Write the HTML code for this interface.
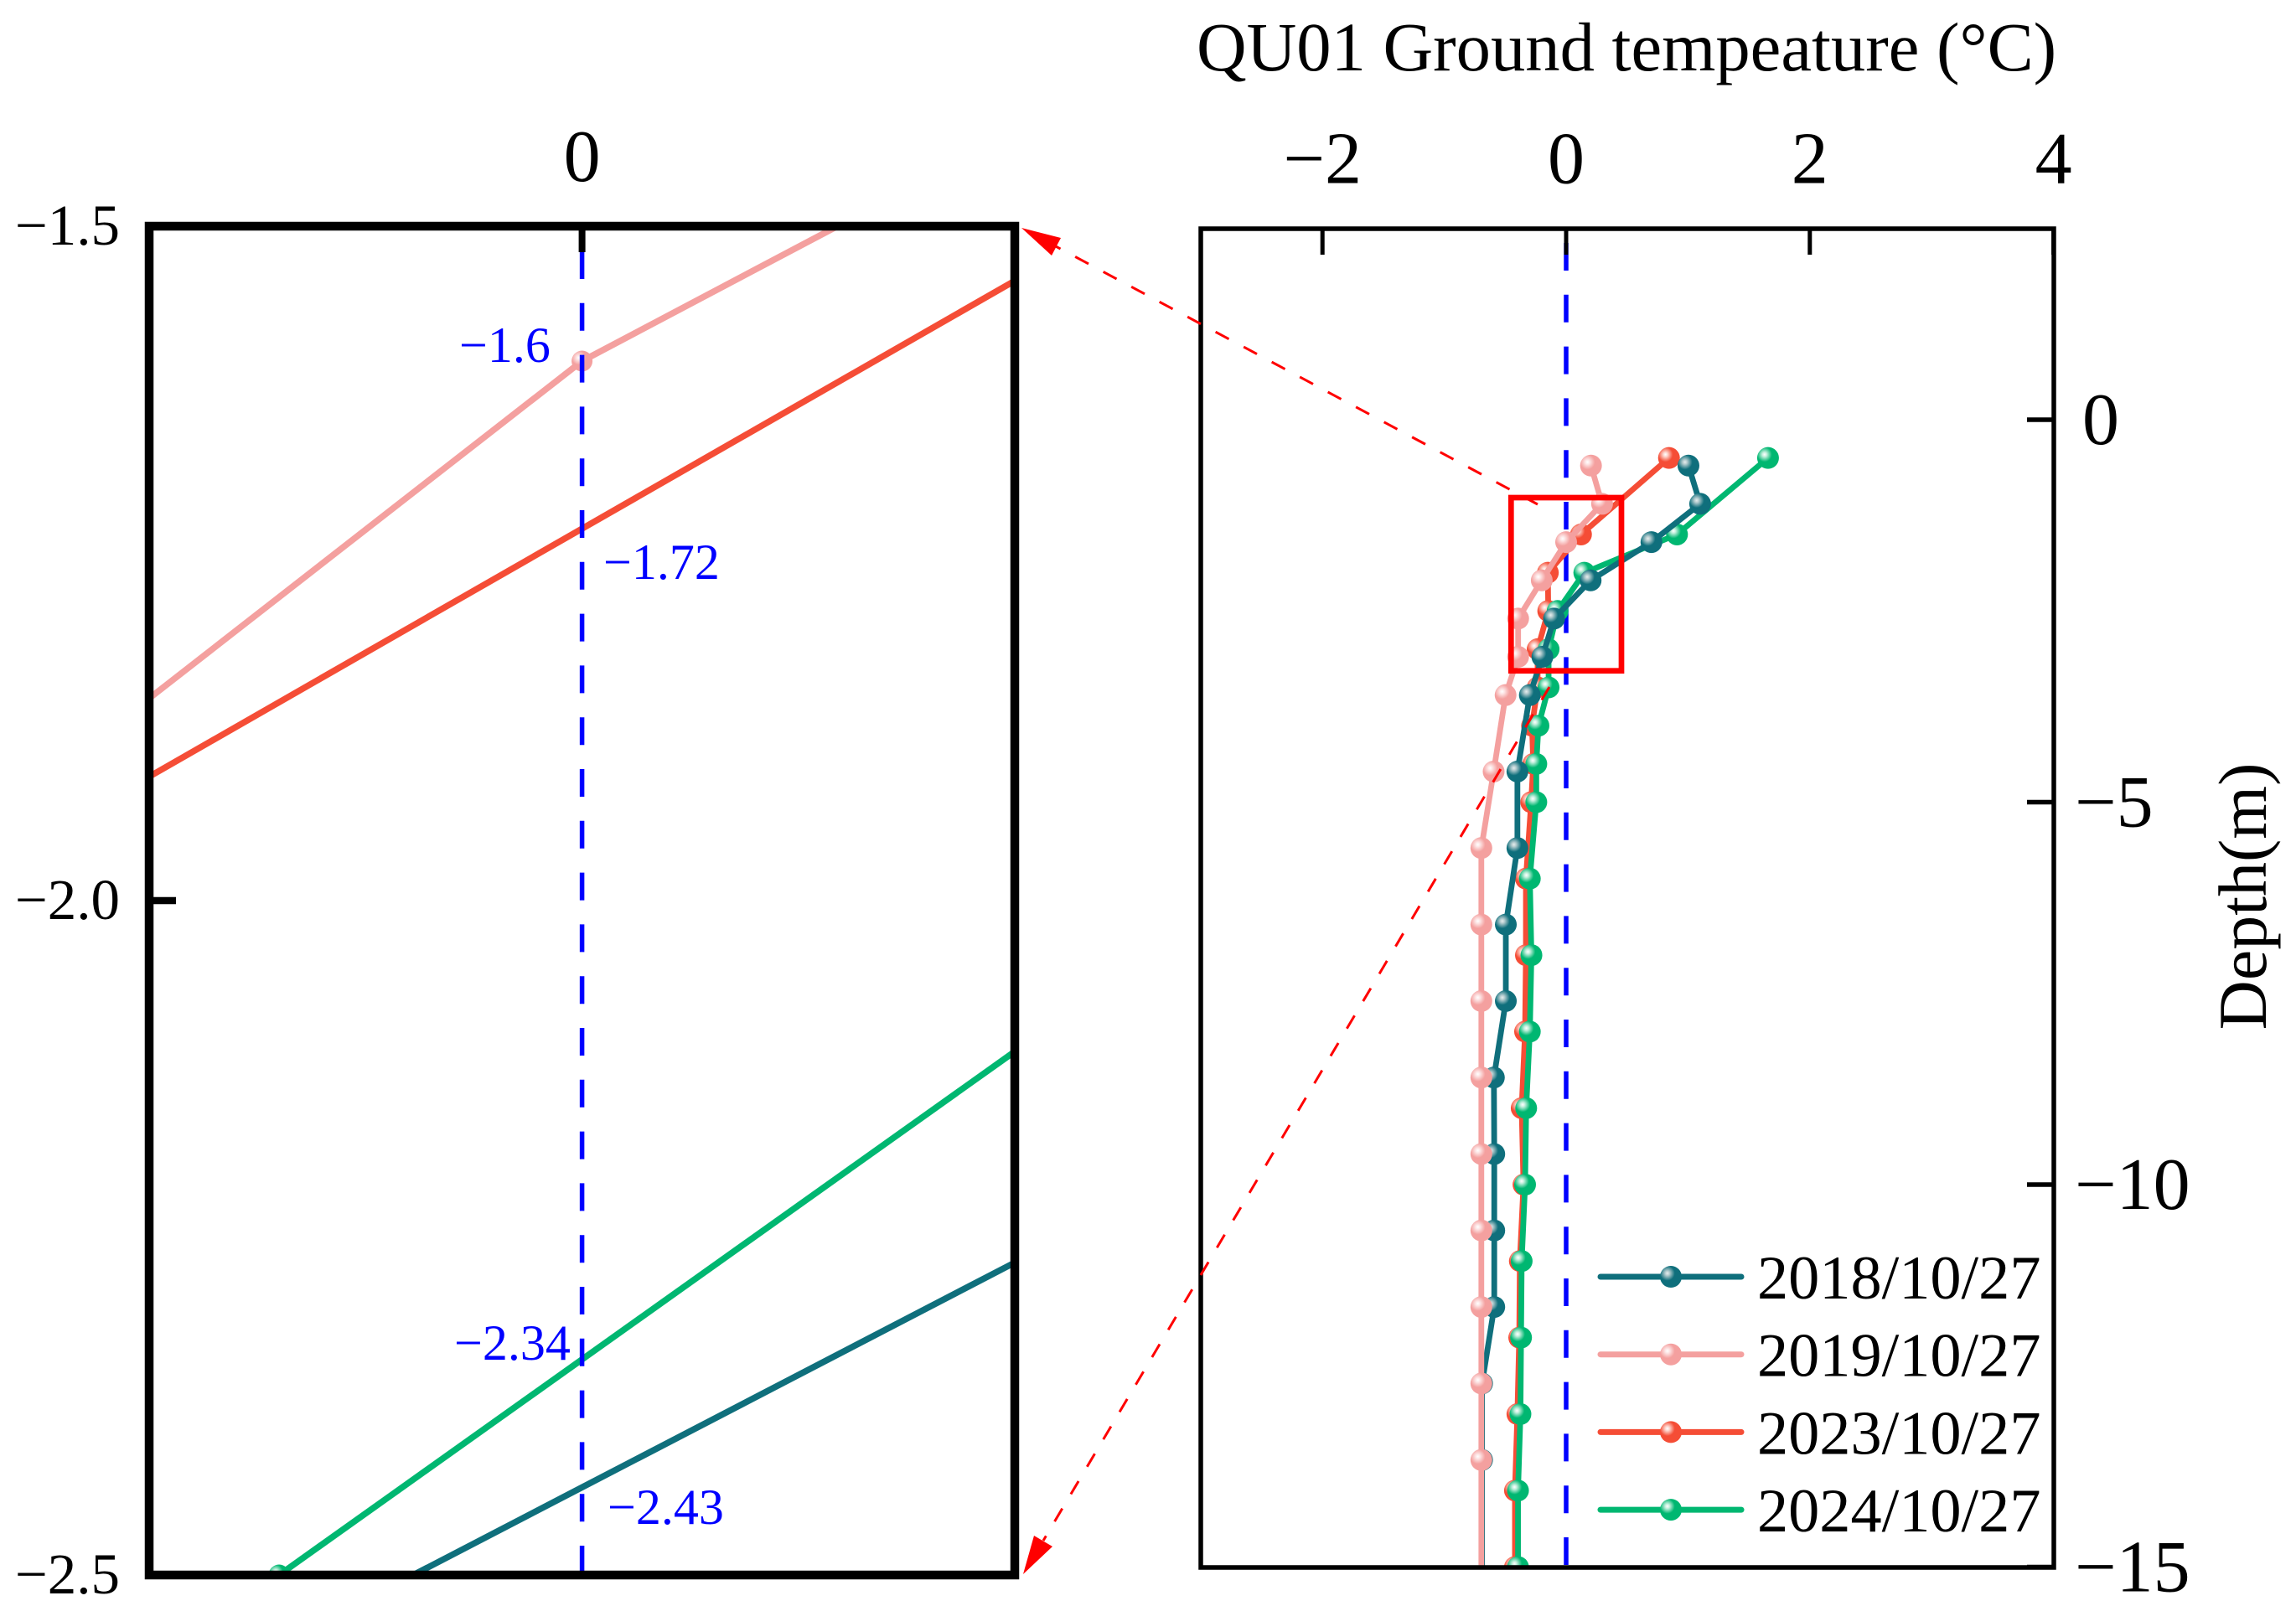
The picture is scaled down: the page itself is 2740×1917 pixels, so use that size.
<!DOCTYPE html>
<html>
<head>
<meta charset="utf-8">
<title>QU01 Ground temperature profile</title>
<style>
html,body{margin:0;padding:0;background:#fff;overflow:hidden;}
svg{display:block;}
text{font-family:"Liberation Serif","Noto Serif CJK SC",serif;fill:#000;}
</style>
</head>
<body>
<svg id="figure" xmlns="http://www.w3.org/2000/svg" width="2740" height="1917" viewBox="0 0 2740 1917">
  <defs>
    <clipPath id="clip-main"><rect x="1433" y="273" width="1018" height="1598"/></clipPath>
    <clipPath id="clip-inset"><rect x="178" y="270" width="1033" height="1610"/></clipPath>
    <radialGradient id="grad-teal" cx="0.34" cy="0.34" r="0.34"><stop offset="0" stop-color="#e6eeee"/><stop offset="0.3" stop-color="#b5cccf"/><stop offset="1" stop-color="#0f6f7c"/></radialGradient>
    <radialGradient id="grad-salmon" cx="0.34" cy="0.34" r="0.34"><stop offset="0" stop-color="#ffffff"/><stop offset="0.3" stop-color="#fde6e6"/><stop offset="1" stop-color="#f4a09f"/></radialGradient>
    <radialGradient id="grad-red" cx="0.34" cy="0.34" r="0.34"><stop offset="0" stop-color="#ffffff"/><stop offset="0.3" stop-color="#fdd5cd"/><stop offset="1" stop-color="#f54d36"/></radialGradient>
    <radialGradient id="grad-green" cx="0.34" cy="0.34" r="0.34"><stop offset="0" stop-color="#ffffff"/><stop offset="0.3" stop-color="#c5f0de"/><stop offset="1" stop-color="#00b771"/></radialGradient>
  </defs>
  <rect x="0" y="0" width="2740" height="1917" fill="#ffffff"/>

  <g id="inset-layer"></g>
  <g id="main-layer"></g>
  <g id="legend-layer"></g>

  <text x="1428" y="84" font-size="82.6">QU01 Ground tempeature (°C)</text>
  <text transform="translate(2704 1070) rotate(-90)" text-anchor="middle" font-size="82">Depth(m)</text>

  <g style="font-size:60px">
    <text x="548" y="432" style="fill:#0000ff">−1.6</text>
    <text x="720" y="691" style="fill:#0000ff">−1.72</text>
    <text x="542" y="1623" style="fill:#0000ff">−2.34</text>
    <text x="725" y="1819" style="fill:#0000ff">−2.43</text>
  </g>

  <rect x="1803.3" y="594" width="131.7" height="206.7" fill="none" stroke="#ff0000" stroke-width="6.7"/>
  <line x1="1835" y1="602" x2="1258" y2="293" stroke="#ff0000" stroke-width="3" stroke-dasharray="18 20"/>
  <polygon points="1219,272 1266,284 1255,305" fill="#ff0000"/>
  <line x1="1849" y1="820" x2="1245" y2="1839" stroke="#ff0000" stroke-width="3" stroke-dasharray="18 20"/>
  <polygon points="1221,1879 1234,1833 1256,1846" fill="#ff0000"/>
</svg>

<script>
// Depth (m) sampled by each pair of loggers (final early reading carries no visible marker)
var depthsEarly = [0.6, 1.1, 1.6, 2.1, 2.6, 3.1, 3.6, 4.6, 5.6, 6.6, 7.6, 8.6, 9.6, 10.6, 11.6, 12.6, 13.6, 15];
var depthsLate = [0.5, 1.5, 2, 2.5, 3, 3.5, 4, 4.5, 5, 6, 7, 8, 9, 10, 11, 12, 13, 14, 15];

// Ground temperature (deg C) per survey
var temps2018 = [1.004, 1.10, 0.70, 0.201, -0.099, -0.195, -0.298, -0.40, -0.40, -0.495, -0.495, -0.593, -0.59, -0.59, -0.59, -0.69, -0.69, -0.69];
var temps2019 = [0.204, 0.295, 0, -0.2, -0.394, -0.394, -0.497, -0.595, -0.696, -0.696, -0.696, -0.696, -0.696, -0.696, -0.696, -0.696, -0.696, -0.696];
var temps2023 = [0.844, 0.122, -0.15, -0.147, -0.234, -0.234, -0.28, -0.27, -0.287, -0.33, -0.33, -0.337, -0.365, -0.35, -0.38, -0.385, -0.40, -0.42, -0.42];
var temps2024 = [1.657, 0.91, 0.149, -0.07, -0.144, -0.144, -0.227, -0.245, -0.245, -0.298, -0.285, -0.298, -0.328, -0.337, -0.365, -0.37, -0.375, -0.395, -0.395];

// Legend labels
var seriesLabels = ["2018/10/27", "2019/10/27", "2023/10/27", "2024/10/27"];

// Tick values and labels
var mainXTicks = [-2, 0, 2, 4];
var mainXTickLabels = ["−2", "0", "2", "4"];
var mainYTicks = [0, 5, 10, 15];
var mainYTickLabels = ["0", "−5", "−10", "−15"];
var insetXTicks = [0];
var insetXTickLabels = ["0"];
var insetYTicks = [1.5, 2, 2.5];
var insetYTickLabels = ["−1.5", "−2.0", "−2.5"];

// Inset window in data units
var insetTempRange = [-0.1, 0.1];
var insetDepthRange = [1.5, 2.5];

// Axis functions
function xMain(t) { return 1869 + 145.4 * t; }
function yMain(d) { return 501 + 91.3 * d; }
function xInset(t) { return 694.6 + 5165 * t; }
function yInset(d) { return 270 + 1610 * (d - 1.5); }

var NS = "http://www.w3.org/2000/svg";
function make(tag, attrs, parent) {
  var el = document.createElementNS(NS, tag);
  for (var k in attrs) { el.setAttribute(k, attrs[k]); }
  parent.appendChild(el);
  return el;
}

// Draw order follows the picture: 2023, 2024, 2018, then 2019 on top
var drawOrder = [
  { key: "2023", depths: depthsLate, temps: temps2023, color: "#f54d36", grad: "url(#grad-red)", hideLast: false },
  { key: "2024", depths: depthsLate, temps: temps2024, color: "#00b771", grad: "url(#grad-green)", hideLast: false },
  { key: "2018", depths: depthsEarly, temps: temps2018, color: "#0f6f7c", grad: "url(#grad-teal)", hideLast: true },
  { key: "2019", depths: depthsEarly, temps: temps2019, color: "#f4a09f", grad: "url(#grad-salmon)", hideLast: true }
];

function drawSeries(parent, prefix, s, xf, yf, lineWidth, radius) {
  var group = make("g", {}, parent);
  
  
  var pts = s.depths.map(function (d, i) { return xf(s.temps[i]).toFixed(2) + "," + yf(d).toFixed(2); }).join(" ");
  var line = make("polyline", { points: pts, fill: "none", stroke: s.color, "stroke-width": lineWidth, "stroke-linejoin": "round" }, group);
  
  
  s.depths.forEach(function (d, i) {
    if (s.hideLast && i === s.depths.length - 1) { return; }
    var dot = make("circle", { cx: xf(s.temps[i]).toFixed(2), cy: yf(d).toFixed(2), r: radius, fill: s.grad }, group);
    
    
  });
}

// Clip one data segment to the inset window (Liang-Barsky); returns [t0,d0,t1,d1] or null
function clipSegment(t0, d0, t1, d1) {
  var u0 = 0, u1 = 1, dt = t1 - t0, dd = d1 - d0;
  var p = [-dt, dt, -dd, dd];
  var q = [t0 - insetTempRange[0], insetTempRange[1] - t0, d0 - insetDepthRange[0], insetDepthRange[1] - d0];
  for (var i = 0; i < 4; i++) {
    if (p[i] === 0) { if (q[i] < 0) { return null; } continue; }
    var r = q[i] / p[i];
    if (p[i] < 0) { if (r > u1) { return null; } if (r > u0) { u0 = r; } }
    else { if (r < u0) { return null; } if (r < u1) { u1 = r; } }
  }
  return [t0 + u0 * dt, d0 + u0 * dd, t0 + u1 * dt, d0 + u1 * dd];
}

function drawInsetSeries(parent, s, lineWidth, radius) {
  var group = make("g", {}, parent);
  
  
  for (var i = 0; i < s.depths.length - 1; i++) {
    var seg = clipSegment(s.temps[i], s.depths[i], s.temps[i + 1], s.depths[i + 1]);
    if (!seg) { continue; }
    var line = make("line", { x1: xInset(seg[0]).toFixed(2), y1: yInset(seg[1]).toFixed(2), x2: xInset(seg[2]).toFixed(2), y2: yInset(seg[3]).toFixed(2), stroke: s.color, "stroke-width": lineWidth }, group);
    
    
  }
  s.depths.forEach(function (d, i) {
    var t = s.temps[i];
    if (t < insetTempRange[0] || t > insetTempRange[1] || d < insetDepthRange[0] || d > insetDepthRange[1]) { return; }
    var dot = make("circle", { cx: xInset(t).toFixed(2), cy: yInset(d).toFixed(2), r: radius, fill: s.grad }, group);
    
    
  });
}

function dashedZero(parent, name, x, y1, y2) {
  var zero = make("line", { x1: x, x2: x, y1: y1, y2: y2, stroke: "#0000ff", "stroke-width": 5.5, "stroke-dasharray": "33 28.8" }, parent);
  
  
}

// ---- Inset panel ----
var inset = document.getElementById("inset-layer");
var insetClip = make("g", { "clip-path": "url(#clip-inset)" }, inset);


drawOrder.forEach(function (s) { drawInsetSeries(insetClip, s, 7.5, 12.5); });
dashedZero(insetClip, "inset-zero-line", xInset(0), 300, 1880);

var insetFrame = make("rect", { x: 178, y: 270, width: 1033, height: 1610, fill: "none", stroke: "#000", "stroke-width": 10.5 }, inset);



insetXTicks.forEach(function (t, i) {
  var tick = make("line", { x1: xInset(t), x2: xInset(t), y1: 270, y2: 301, stroke: "#000", "stroke-width": 8 }, inset);
  
  
  var label = make("text", { x: xInset(t), y: 216, "text-anchor": "middle", "font-size": 88 }, inset);
  
  
  label.textContent = insetXTickLabels[i];
});
insetYTicks.forEach(function (d, i) {
  var tick = make("line", { x1: 178, x2: 210, y1: yInset(d), y2: yInset(d), stroke: "#000", "stroke-width": 8.5 }, inset);
  
  
  var label = make("text", { x: 143, y: yInset(d) + 22, "text-anchor": "end", "font-size": 69 }, inset);
  
  
  label.textContent = insetYTickLabels[i];
});

// ---- Main panel ----
var mainPlot = document.getElementById("main-layer");
var mainClip = make("g", { "clip-path": "url(#clip-main)" }, mainPlot);


dashedZero(mainClip, "main-zero-line", xMain(0), 290, 1871);
drawOrder.forEach(function (s) { drawSeries(mainClip, "main", s, xMain, yMain, 6.8, 13); });

var mainFrame = make("rect", { x: 1433, y: 273, width: 1018, height: 1598, fill: "none", stroke: "#000", "stroke-width": 5.5 }, mainPlot);



mainXTicks.forEach(function (t, i) {
  var tick = make("line", { x1: xMain(t), x2: xMain(t), y1: 273, y2: 304, stroke: "#000", "stroke-width": 5 }, mainPlot);
  
  
  var label = make("text", { x: xMain(t), y: 218.5, "text-anchor": "middle", "font-size": 88 }, mainPlot);
  
  
  label.textContent = mainXTickLabels[i];
});
mainYTicks.forEach(function (d, i) {
  var tick = make("line", { x1: 2419, x2: 2451, y1: yMain(d), y2: yMain(d), stroke: "#000", "stroke-width": 5.5 }, mainPlot);
  
  
  var labelText = mainYTickLabels[i];
  var labelX = labelText.charAt(0) === "−" ? 2476 : 2485;
  var label = make("text", { x: labelX, y: yMain(d) + 29, "font-size": 88 }, mainPlot);
  
  
  label.textContent = labelText;
});

// ---- Legend ----
var legend = document.getElementById("legend-layer");
var legendKeys = [
  { color: "#0f6f7c", grad: "url(#grad-teal)" },
  { color: "#f4a09f", grad: "url(#grad-salmon)" },
  { color: "#f54d36", grad: "url(#grad-red)" },
  { color: "#00b771", grad: "url(#grad-green)" }
];
seriesLabels.forEach(function (text, i) {
  var rowY = 1524 + 92.7 * i;
  var row = make("g", {}, legend);
  
  
  var swatch = make("line", { x1: 1910, x2: 2078, y1: rowY, y2: rowY, stroke: legendKeys[i].color, "stroke-width": 7, "stroke-linecap": "round" }, row);
  
  
  var dot = make("circle", { cx: 1994, cy: rowY, r: 13, fill: legendKeys[i].grad }, row);
  
  
  var label = make("text", { x: 2097, y: rowY + 26, "font-size": 74.3 }, row);
  
  
  label.textContent = text;
});
</script>
</body>
</html>
